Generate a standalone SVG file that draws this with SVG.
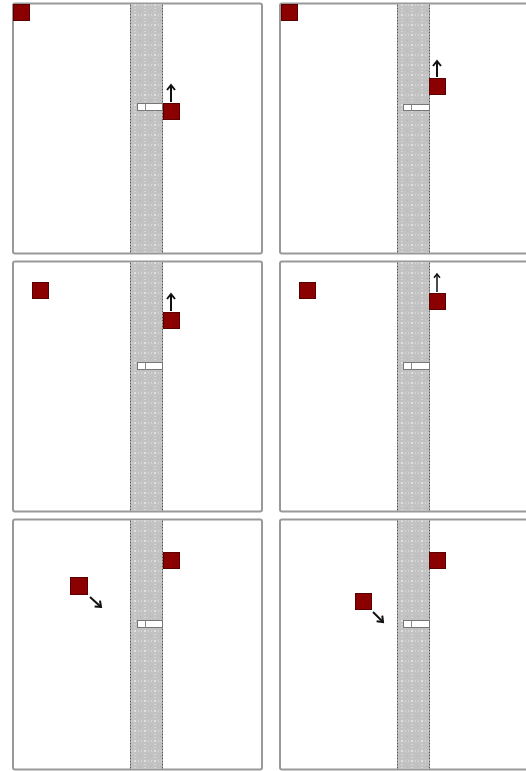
<svg xmlns="http://www.w3.org/2000/svg" width="526" height="771" viewBox="0 0 526 771">
<defs>
<pattern id="tex" width="10" height="10" patternUnits="userSpaceOnUse">
<rect width="10" height="10" fill="#c2c2c2"/>
<rect x="4" y="4" width="2" height="2" fill="#e0e0e0"/>
<rect x="4" y="1" width="2" height="1" fill="#d4d4d4"/>
<rect x="4" y="8" width="2" height="1" fill="#d4d4d4"/>
<rect x="1" y="4" width="1" height="2" fill="#d4d4d4"/>
<rect x="8" y="4" width="1" height="2" fill="#d4d4d4"/>
<rect x="0" y="0" width="1" height="1" fill="#b0b0b0"/>
</pattern>
<marker id="head" viewBox="0 0 10 10" refX="6" refY="5" markerWidth="5" markerHeight="5" orient="auto" markerUnits="strokeWidth">
<path d="M1,1 L6,5 L1,9" fill="none" stroke="#111" stroke-width="2"/>
</marker>
<g id="panelBase">
<rect x="13" y="3.5" width="249" height="250" rx="2" fill="#fff" stroke="#999" stroke-width="2"/>
<rect x="130.5" y="4.5" width="32" height="248.5" fill="url(#tex)"/>
<line x1="130.5" y1="4.5" x2="130.5" y2="253" stroke="#555" stroke-width="1" stroke-dasharray="2,1"/>
<line x1="162.5" y1="4.5" x2="162.5" y2="253" stroke="#555" stroke-width="1" stroke-dasharray="2,1"/>
</g>
</defs>
<style>
.sq{fill:#8b0000;stroke:#5a0000;stroke-width:1}
.bar{fill:#fff;stroke:#777;stroke-width:1}
.div{stroke:#888;stroke-width:1}
.arr{fill:none;stroke:#111;stroke-width:2;marker-end:url(#head)}
.arr-thin{fill:none;stroke:#111;stroke-width:1.5;marker-end:url(#head)}
</style>

<g id="panel-1">
<use href="#panelBase"/>
<rect class="sq" x="13.5" y="4.5" width="16" height="16"/>
<g id="bar-1"><rect class="bar" x="137.5" y="103.5" width="25" height="7"/><line class="div" x1="145.5" y1="103.5" x2="145.5" y2="110.5"/></g>
<rect class="sq" x="163.5" y="103.5" width="16" height="16"/>
</g>

<g id="panel-2" transform="translate(267,0)">
<use href="#panelBase"/>
<rect class="sq" x="14.5" y="4.5" width="16" height="16"/>
<g id="bar-2"><rect class="bar" x="136.5" y="104.5" width="26" height="6"/><line class="div" x1="144.5" y1="104.5" x2="144.5" y2="110.5"/></g>
<rect class="sq" x="162.5" y="78.5" width="16" height="16"/>
</g>

<g id="panel-3" transform="translate(0,258)">
<use href="#panelBase"/>
<rect class="sq" x="32.5" y="24.5" width="16" height="16"/>
<g id="bar-3"><rect class="bar" x="137.5" y="104.5" width="25" height="7"/><line class="div" x1="145.5" y1="104.5" x2="145.5" y2="111.5"/></g>
<rect class="sq" x="163.5" y="54.5" width="16" height="16"/>
</g>

<g id="panel-4" transform="translate(267,258)">
<use href="#panelBase"/>
<rect class="sq" x="32.5" y="24.5" width="16" height="16"/>
<g id="bar-4"><rect class="bar" x="136.5" y="104.5" width="26" height="7"/><line class="div" x1="144.5" y1="104.5" x2="144.5" y2="111.5"/></g>
<rect class="sq" x="162.5" y="35.5" width="16" height="16"/>
</g>

<g id="panel-5" transform="translate(0,516)">
<use href="#panelBase"/>
<rect class="sq" x="70.5" y="61.5" width="17" height="17"/>
<g id="bar-5"><rect class="bar" x="137.5" y="104.5" width="25" height="7"/><line class="div" x1="145.5" y1="104.5" x2="145.5" y2="111.5"/></g>
<rect class="sq" x="163.5" y="36.5" width="16" height="16"/>
</g>

<g id="panel-6" transform="translate(267,516)">
<use href="#panelBase"/>
<rect class="sq" x="88.5" y="77.5" width="16" height="16"/>
<g id="bar-6"><rect class="bar" x="136.5" y="104.5" width="26" height="7"/><line class="div" x1="144.5" y1="104.5" x2="144.5" y2="111.5"/></g>
<rect class="sq" x="162.5" y="36.5" width="16" height="16"/>
</g>

<g id="connectors">
<path class="arr" d="M171,102 L171,85"/>
<path class="arr" d="M437,77 L437,61"/>
<path class="arr" d="M171,311 L171,294"/>
<path class="arr-thin" d="M437,292 L437,274"/>
<path class="arr" d="M90,597 L101,607"/>
<path class="arr" d="M373,612 L383,622"/>
</g>
</svg>
